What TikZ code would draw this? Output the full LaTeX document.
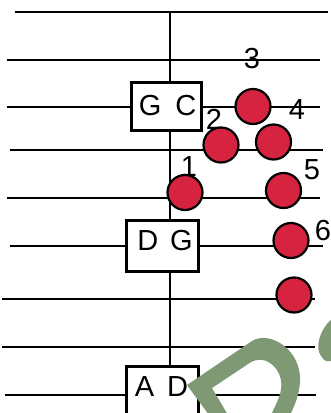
\documentclass[tikz,border=0pt]{standalone}
\usepackage{fontspec}
\setmainfont{Liberation Sans}
\definecolor{dotred}{RGB}{214,35,64}
\definecolor{wmgreen}{RGB}{126,153,115}
\begin{document}
\begin{tikzpicture}[x=1pt,y=-1pt,
  staff/.style={line width=2.9pt, draw=black},
  stemline/.style={line width=2.9pt, draw=black},
  chordbox/.style={draw=black, line width=2.9pt, fill=white, inner sep=0pt, minimum width=70pt, minimum height=48.5pt},
  boxtext/.style={inner sep=0pt, font=\fontsize{29}{29}\selectfont},
  num/.style={inner sep=0pt, font=\fontsize{29}{29}\selectfont},
  dot/.style={circle, draw=black, line width=2.2pt, fill=dotred, minimum size=35pt, inner sep=0pt}
]
\useasboundingbox (0,0) rectangle (330,413);
% staff lines
\draw[staff] (15,12) -- (328,12);
\draw[staff] (7,60) -- (320,60);
\draw[staff] (7,107) -- (320,107);
\draw[staff] (10,150) -- (323,150);
\draw[staff] (7,198) -- (320,198);
\draw[staff] (10,246) -- (323,246);
\draw[staff] (2,299) -- (315,299);
\draw[staff] (2,347) -- (315,347);
\draw[staff] (5,395) -- (316,395);
% stem
\coordinate (stemtop) at (170,12);
\coordinate (stembot) at (170,420);
\draw[stemline] (stemtop) -- (stembot);
% boxes
\node[chordbox] (gc) at (166.5,106.5) {};
\node[chordbox, minimum width=72pt, minimum height=51pt] (dg) at (162.5,246) {};
\node[chordbox, minimum width=72pt, minimum height=51pt] (ad) at (162.5,392) {};
\node[boxtext] (gct) at (167.5,106) {G\hspace{14pt}C};
\node[boxtext] (dgt) at (165,241) {D\hspace{12pt}G};
\node[boxtext] (adt) at (161.5,386.5) {A\hspace{13pt}D};
% labels
\node[num] (n1) at (189,167) {1};
\node[num] (n2) at (214,119) {2};
\node[num] (n3) at (252,58.5) {3};
\node[num] (n4) at (297,110) {4};
\node[num] (n5) at (312,169.5) {5};
\node[num] (n6) at (323,231) {6};
% dots
\node[dot] (c1) at (185,192.5) {};
\node[dot] (c2) at (221,145) {};
\node[dot] (c3) at (253,106.5) {};
\node[dot] (c4) at (273.5,142) {};
\node[dot] (c5) at (283.5,190.5) {};
\node[dot] (c6) at (291,240.5) {};
\node[dot] (c7) at (294,295) {};
% green shapes
\fill[wmgreen] (209,415) -- (187,385) -- (252,341) .. controls (270,330) and (302,350) .. (300,382) .. controls (299,395) and (295,405) .. (290,415) -- (271,415) .. controls (277,402) and (283,392) .. (281,380) .. controls (278,365) and (264,355) .. (251,362) -- (212,388) -- (228,415) -- cycle;
\fill[wmgreen] (331,320) .. controls (322,327) and (316,343) .. (319,352) .. controls (321,357) and (324,360) .. (326,361) -- (331,361) -- cycle;
\end{tikzpicture}
\end{document}
